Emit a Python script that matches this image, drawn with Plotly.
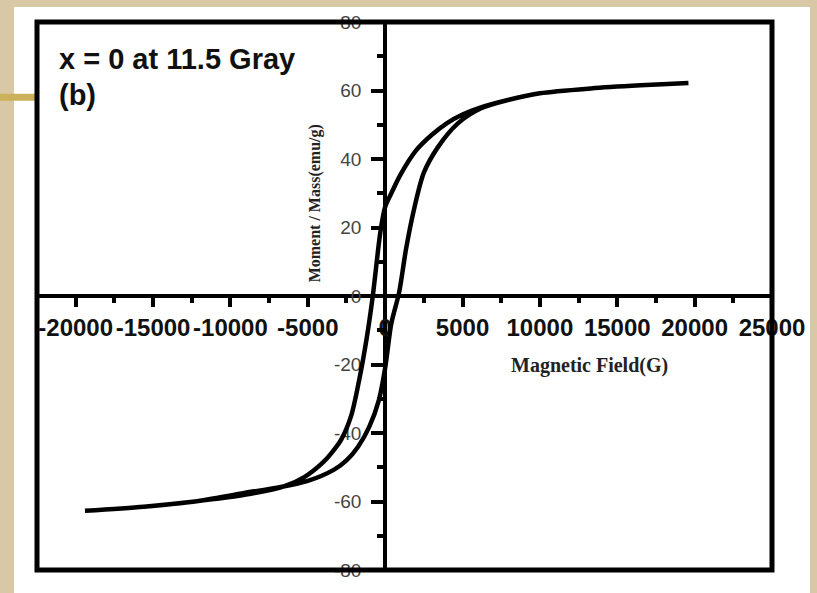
import plotly.graph_objects as go

# ---------------- data ----------------
# descending-field branch (from +H max to -H max)
field_desc = [19600, 16500, 13300, 10000, 8000, 6000, 5000, 4000, 3000, 2000,
              1000, 400, 0, -300, -800, -1200, -1700, -2200, -2850, -3500,
              -4000, -5200, -6500, -9000, -12300, -15600, -19400]
moment_desc = [62.2, 61.5, 60.6, 59.2, 57.3, 54.8, 53.0, 50.5, 47.0, 42.5,
               35.5, 30.0, 26.0, 19.0, 0.0, -12.5, -25.0, -35.0, -42.0, -46.0,
               -48.5, -52.8, -55.5, -58.0, -60.0, -61.5, -62.7]
# ascending-field branch (from -H max back to +H max)
field_asc = [-15600, -12300, -9100, -7000, -5000, -3300, -2500, -1750, -1030,
             -400, 0, 400, 900, 1360, 1900, 2500, 3400, 4700, 6200, 8000,
             10000, 13300, 16500, 19600]
moment_asc = [-61.5, -60.0, -57.5, -56.0, -54.0, -50.7, -48.0, -44.0, -38.2,
              -30.3, -21.0, -8.0, 1.0, 14.0, 26.0, 36.0, 43.4, 50.4, 54.8, 57.3,
              59.2, 60.6, 61.5, 62.2]

x_tick_values = [-20000, -15000, -10000, -5000, 0, 5000, 10000, 15000, 20000, 25000]
x_tick_labels = ["-20000", "-15000", "-10000", "-5000", "0", "5000", "10000",
                 "15000", "20000", "25000"]
y_tick_values = [-80, -60, -40, -20, 0, 20, 40, 60, 80]
y_tick_labels = ["-80", "-60", "-40", "-20", "0", "20", "40", "60", "80"]

x_range = [-22500, 25000]
y_range = [-80, 80]

title_line1 = "x = 0 at 11.5 Gray"
title_line2 = "(b)"
x_title = "Magnetic Field(G)"
y_title = "Moment / Mass(emu/g)"

# ---------------- layout geometry (pixels) ----------------
W, H = 817, 593
L, R, T, B = 37, 772, 21, 571


def px(x):
    return (x - L) / (R - L)


def py(y):
    return (B - y) / (B - T)


field = field_desc + field_asc
moment = moment_desc + moment_asc

fig = go.Figure()
fig.add_trace(go.Scatter(
    x=field, y=moment, mode="lines",
    line=dict(color="black", width=4.5, shape="spline", smoothing=0.8),
    showlegend=False, hoverinfo="x+y",
))

xpos0 = (0 - y_range[0]) / (y_range[1] - y_range[0])
ypos0 = (0 - x_range[0]) / (x_range[1] - x_range[0])

fig.update_layout(
    width=W, height=H, autosize=False,
    margin=dict(l=L, r=W - R, t=T, b=H - B, pad=0),
    paper_bgcolor="#d8c8a6",
    plot_bgcolor="white",
    xaxis=dict(
        range=x_range, anchor="free", position=xpos0, side="bottom",
        showline=True, linecolor="black", linewidth=4,
        showgrid=False, zeroline=False,
        tickmode="array", tickvals=x_tick_values, ticktext=x_tick_labels,
        ticks="outside", ticklen=9, tickwidth=3.5, tickcolor="black",
        minor=dict(dtick=2500, tick0=0, ticks="outside", ticklen=5,
                   tickwidth=3.5, tickcolor="black"),
        tickfont=dict(family="Liberation Sans, Arial", size=24, color="#111",
                      weight="bold"),
        ticklabelstandoff=0,
        layer="below traces", fixedrange=True,
    ),
    yaxis=dict(
        range=y_range, anchor="free", position=ypos0, side="left",
        showline=True, linecolor="black", linewidth=4,
        showgrid=False, zeroline=False,
        tickmode="array", tickvals=y_tick_values, ticktext=y_tick_labels,
        ticks="outside", ticklen=12, tickwidth=3.5, tickcolor="black",
        minor=dict(dtick=10, tick0=0, ticks="outside", ticklen=6,
                   tickwidth=3.5, tickcolor="black"),
        tickfont=dict(family="Liberation Sans, Arial", size=19, color="#444"),
        ticklabelstandoff=6,
        layer="below traces", fixedrange=True,
    ),
    shapes=[
        # white slide panel
        dict(type="rect", xref="paper", yref="paper",
             x0=px(14), x1=px(810), y0=py(620), y1=py(6),
             fillcolor="white", line=dict(width=0), layer="below"),
        # golden bar of the slide decoration
        dict(type="rect", xref="paper", yref="paper",
             x0=px(-5), x1=px(35), y0=py(100), y1=py(93),
             fillcolor="#cbb15a", line=dict(width=0), layer="below"),
        # frame
        dict(type="rect", xref="paper", yref="paper",
             x0=0, x1=1, y0=0, y1=1,
             line=dict(color="black", width=5), layer="above"),
    ],
    annotations=[
        dict(text=title_line1, xref="paper", yref="paper", x=px(57), y=py(58),
             xanchor="left", yanchor="middle", showarrow=False,
             font=dict(family="Liberation Sans, Arial", size=29, color="#111",
                       weight="bold")),
        dict(text=title_line2, xref="paper", yref="paper", x=px(57), y=py(94),
             xanchor="left", yanchor="middle", showarrow=False,
             font=dict(family="Liberation Sans, Arial", size=29, color="#111",
                       weight="bold")),
        dict(text=x_title, xref="paper", yref="paper", x=px(589), y=py(366),
             xanchor="center", yanchor="middle", showarrow=False,
             font=dict(family="Liberation Serif, Times New Roman", size=20,
                       color="#222", weight="bold")),
        dict(text=y_title, xref="paper", yref="paper", x=px(315), y=py(203),
             xanchor="center", yanchor="middle", showarrow=False, textangle=-90,
             font=dict(family="Liberation Serif, Times New Roman", size=16,
                       color="#222", weight="bold")),
    ],
)

fig.write_html("out.html")
